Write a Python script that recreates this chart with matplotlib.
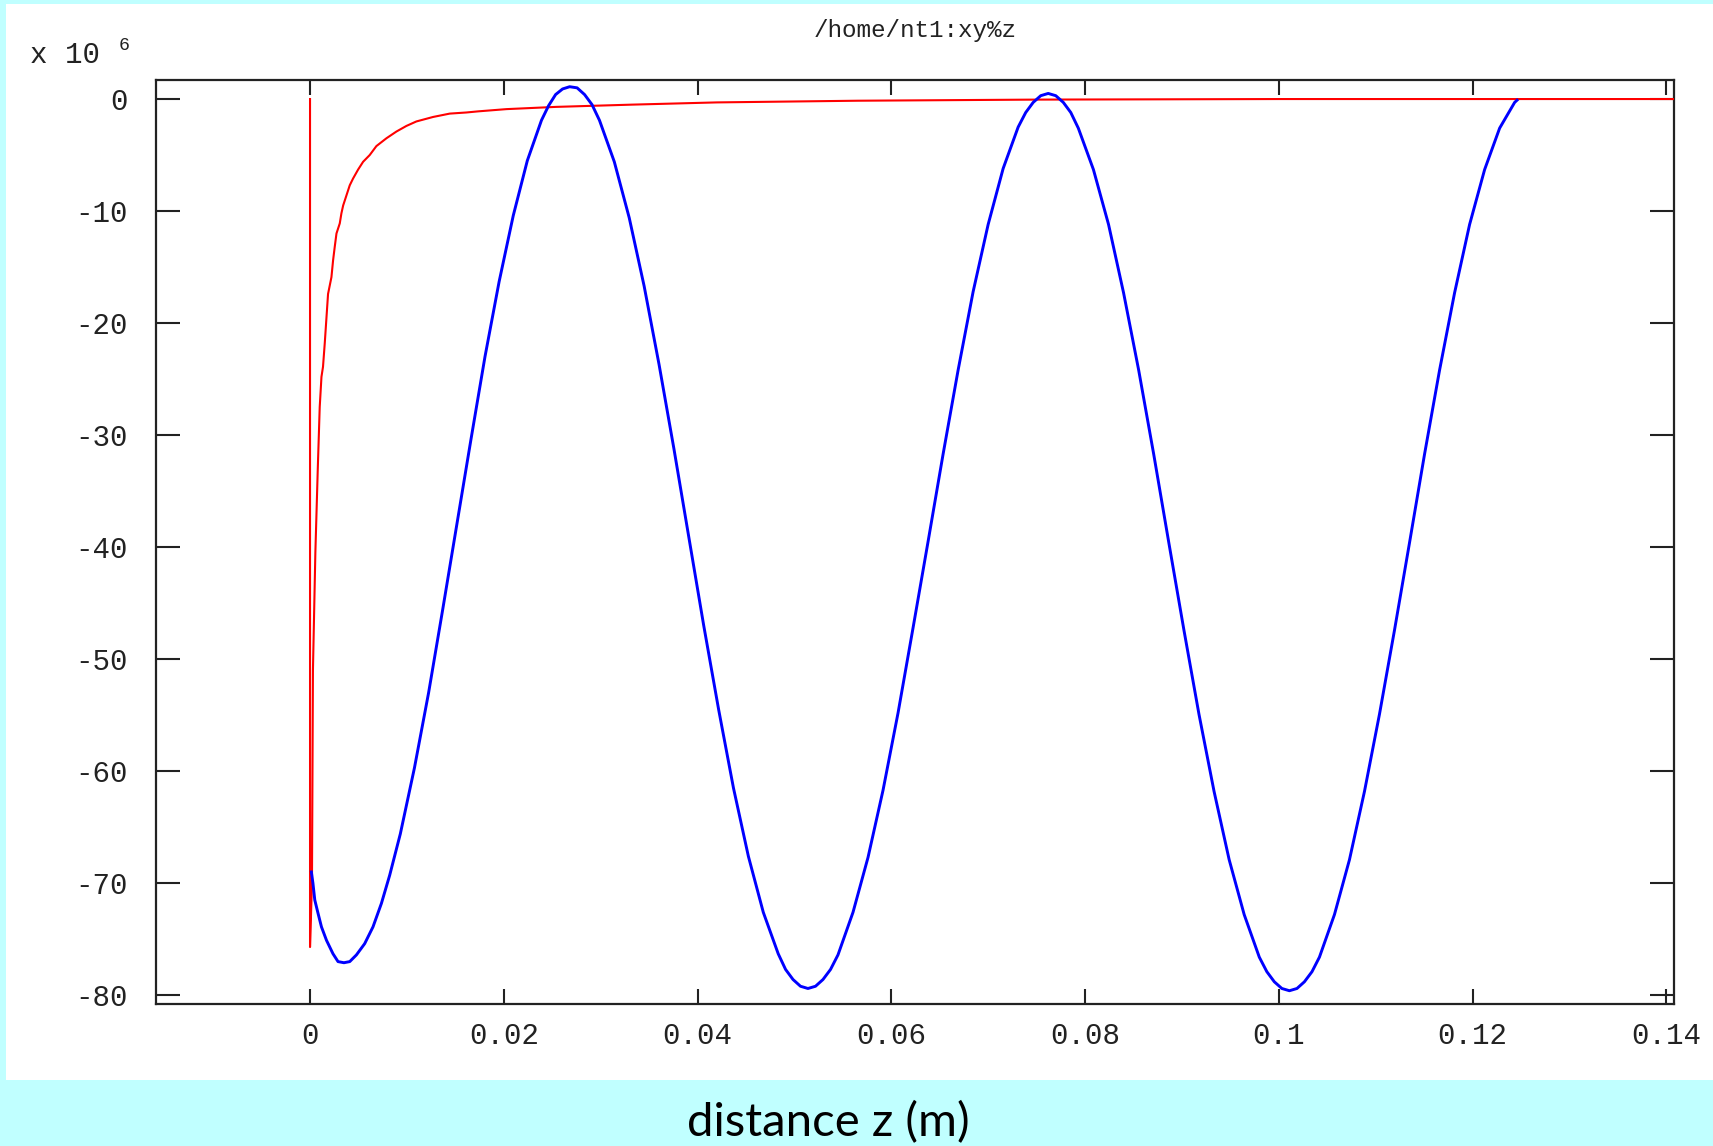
import matplotlib
matplotlib.use("Agg")
import matplotlib.pyplot as plt
from matplotlib.patches import Rectangle

plt.rcParams['axes.unicode_minus'] = False

# blue trace: field along z (x 10^6)
BLUE_Z = [0.00014, 0.0003, 0.00049, 0.00083, 0.00118, 0.0017, 0.00237, 0.00289, 0.0035, 0.0041,
          0.00479, 0.00564, 0.0065, 0.00737, 0.00822, 0.00932, 0.01078, 0.01224, 0.01369, 0.01515,
          0.01661, 0.01806, 0.01952, 0.02098, 0.02243, 0.02389, 0.02462, 0.02535, 0.02607, 0.0268,
          0.02757, 0.02834, 0.02911, 0.02988, 0.03141, 0.03295, 0.03449, 0.03603, 0.03756, 0.0391,
          0.04064, 0.04218, 0.04371, 0.04525, 0.04679, 0.04833, 0.04909, 0.04986, 0.05063, 0.0514,
          0.05218, 0.05295, 0.05373, 0.0545, 0.05605, 0.0576, 0.05915, 0.0607, 0.06225, 0.0638,
          0.06535, 0.0669, 0.06845, 0.07, 0.07155, 0.0731, 0.07388, 0.07465, 0.07543, 0.0762,
          0.07698, 0.07776, 0.07853, 0.07931, 0.08087, 0.08243, 0.08398, 0.08554, 0.08709, 0.08865,
          0.09021, 0.09176, 0.09332, 0.09488, 0.09643, 0.09799, 0.09877, 0.09954, 0.10032, 0.1011,
          0.10188, 0.10265, 0.10343, 0.1042, 0.10575, 0.1073, 0.10885, 0.1104, 0.11195, 0.1135,
          0.11505, 0.1166, 0.11815, 0.1197, 0.12125, 0.1228, 0.12435, 0.1246]
BLUE_V = [-69.0, -70.0, -71.5, -72.7, -73.9, -75.1, -76.3, -77.0, -77.1, -77.0,
          -76.4, -75.4, -73.9, -71.8, -69.3, -65.6, -59.7, -53.0, -45.6, -38.0,
          -30.4, -23.0, -16.3, -10.4, -5.5, -1.9, -0.6, 0.4, 0.9, 1.1,
          1.0, 0.4, -0.5, -1.9, -5.6, -10.6, -16.7, -23.7, -31.2, -39.1,
          -47.0, -54.5, -61.5, -67.6, -72.6, -76.3, -77.7, -78.6, -79.2, -79.4,
          -79.2, -78.6, -77.7, -76.4, -72.6, -67.7, -61.7, -54.8, -47.2, -39.5,
          -31.7, -24.2, -17.2, -11.2, -6.2, -2.5, -1.2, -0.3, 0.3, 0.5,
          0.3, -0.3, -1.2, -2.6, -6.3, -11.2, -17.3, -24.2, -31.7, -39.6,
          -47.4, -54.9, -61.8, -67.9, -72.8, -76.6, -77.9, -78.8, -79.4, -79.6,
          -79.4, -78.8, -77.9, -76.6, -72.8, -67.9, -61.8, -54.9, -47.4, -39.6,
          -31.7, -24.2, -17.3, -11.2, -6.3, -2.6, -0.3, -0.1]

# red trace
RED_Z = [0.0, 0.0, 0.0002, 0.0003, 0.00055, 0.0008, 0.001, 0.00118, 0.00134, 0.00152,
         0.00169, 0.00186, 0.00221, 0.00238, 0.00255, 0.00273, 0.00307, 0.00324, 0.00342, 0.00376,
         0.0041, 0.00444, 0.00496, 0.00548, 0.00616, 0.00685, 0.00789, 0.00892, 0.00995, 0.01098,
         0.0127, 0.01442, 0.01614, 0.01735, 0.02028, 0.0254, 0.0332, 0.042, 0.0565, 0.075,
         0.1, 0.125, 0.142]
RED_V = [0.0, -75.7, -70.0, -51.0, -40.5, -33.0, -27.5, -24.8, -23.9, -21.8,
         -19.6, -17.4, -15.9, -14.4, -13.2, -12.0, -11.1, -10.2, -9.5, -8.6,
         -7.7, -7.1, -6.3, -5.6, -5.0, -4.2, -3.5, -2.9, -2.4, -2.0,
         -1.6, -1.3, -1.2, -1.1, -0.9, -0.7, -0.5, -0.3, -0.15, -0.05,
         0.0, 0.0, 0.0]

X_TICKS = [0, 0.02, 0.04, 0.06, 0.08, 0.1, 0.12, 0.14]
X_LABELS = ["0", "0.02", "0.04", "0.06", "0.08", "0.1", "0.12", "0.14"]
Y_TICKS = [0, -10, -20, -30, -40, -50, -60, -70, -80]
Y_LABELS = ["0", "-10", "-20", "-30", "-40", "-50", "-60", "-70", "-80"]

MONO = "Liberation Mono"
INK = "#222222"

W, H = 1713, 1146
fig = plt.figure(figsize=(W / 100, H / 100), dpi=100, facecolor="#c0ffff")
fig.patches.append(Rectangle((6 / W, 66 / H), 1 - 6 / W, (1142 - 66) / H,
                             transform=fig.transFigure, facecolor="white",
                             edgecolor="none", zorder=-10))

ax = fig.add_axes([156 / W, 1 - 1003.5 / H, (1674 - 156) / W, (1003.5 - 80) / H])
ax.set_zorder(5)
ax.set_facecolor("white")
ax.plot(RED_Z, RED_V, color="#ff0000", lw=1.5, zorder=3)
ax.plot(BLUE_Z, BLUE_V, color="#0000ff", lw=2.1, zorder=4)

ax.set_xlim(-0.0159, 0.1408)
ax.set_ylim(-80.74, 1.7)
ax.set_xticks(X_TICKS)
ax.set_xticklabels(X_LABELS, family=MONO, fontsize=21, color=INK)
ax.set_yticks(Y_TICKS)
ax.set_yticklabels(Y_LABELS, family=MONO, fontsize=21, color=INK)
ax.tick_params(axis="both", direction="in", top=True, right=True,
               color=INK, width=1.5)
ax.tick_params(axis="x", length=10.5, pad=13)
ax.tick_params(axis="y", length=17, pad=20)
for s in ax.spines.values():
    s.set_color(INK)
    s.set_linewidth(1.6)

fig.text(915 / W, 1 - 30 / H, "/home/nt1:xy%z", family=MONO, fontsize=17.5,
         color=INK, ha="center", va="center")
fig.text(30 / W, 1 - 63 / H, "x 10", family=MONO, fontsize=21, color=INK,
         ha="left", va="baseline")
fig.text(119 / W, 1 - 50 / H, "6", family=MONO, fontsize=13, color=INK,
         ha="left", va="baseline")
fig.text(828 / W, 1 - 1136 / H, "distance z (m)", family="Lato", fontsize=34,
         color="black", ha="center", va="baseline")

fig.savefig("out.png", dpi=100, facecolor=fig.get_facecolor())
